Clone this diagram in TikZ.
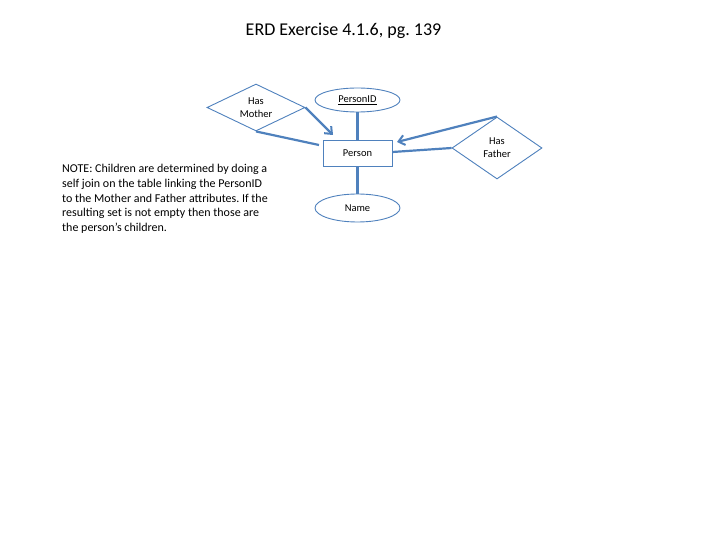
\documentclass[tikz,border=0pt]{standalone}
\usepackage{fontspec}
\setmainfont{Carlito}
\usetikzlibrary{shapes.geometric,arrows.meta}
\definecolor{lineblue}{RGB}{79,129,189}
\frenchspacing
\begin{document}
\begin{tikzpicture}[x=1pt,y=-1pt,
  shapeline/.style={draw=lineblue,line width=0.9pt,fill=white},
  entitybox/.style={shapeline,rectangle,minimum width=69pt,minimum height=26pt,inner sep=0pt,font=\fontsize{10.5}{12}\selectfont},
  attr/.style={shapeline,ellipse,minimum width=85pt,inner sep=0pt,font=\fontsize{10.5}{12}\selectfont},
  rel/.style={shapeline,diamond,inner sep=0pt,font=\fontsize{10.5}{13}\selectfont,align=center},
  conn/.style={draw=lineblue,line width=2.2pt},
  arr/.style={conn,-{Straight Barb[length=6pt,width=10pt,line width=2pt]}}]
\useasboundingbox (0,0) rectangle (720,540);
\node[font=\fontsize{18}{21}\selectfont] (title) at (343.5,31) {ERD Exercise 4.1.6, pg. 139};
\node[entitybox] (person) at (357.5,153) {Person};
\node[attr,minimum height=24pt] (pid) at (357.5,100) {\underline{PersonID}};
\node[attr,minimum height=28pt] (name) at (357.5,208) {Name};
\node[rel,aspect=2.08,minimum width=98pt,minimum height=47pt] (mother) at (256,107.5) {Has\\Mother};
\node[rel,aspect=1.45,minimum width=90pt,minimum height=62pt] (father) at (497,148) {Has\\Father};
\coordinate (mEnd) at (319,145);
\coordinate (mArr) at (333,135);
\coordinate (fArr) at (397,142);
\draw[conn] (pid) -- (person);
\draw[conn] (person) -- (name);
\draw[arr] (mother.east) -- (mArr);
\draw[conn] (mother.south) -- (mEnd);
\draw[arr] (father.north) -- (fArr);
\draw[conn] (father.west) -- (person.east |- 0,152);
\node[anchor=north west,align=left,inner sep=0pt,font=\fontsize{12}{14.8}\selectfont] (note) at (62,164) {NOTE: Children are determined by doing a\\self join on the table linking the PersonID\\to the Mother and Father attributes. If the\\resulting set is not empty then those are\\the person’s children.};
\end{tikzpicture}
\end{document}
